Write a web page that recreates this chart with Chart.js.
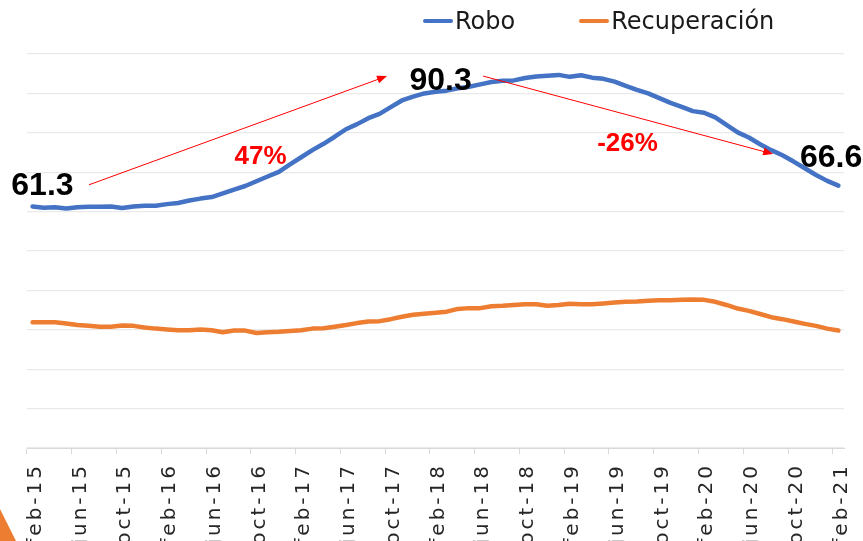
<!DOCTYPE html>
<html lang="es">
<head>
    <meta charset="UTF-8">
    <title>Robo vs Recuperación</title>
    <script src="https://cdn.jsdelivr.net/npm/chart.js"></script>
    <style>
        body { margin: 0; background: #fff; overflow: hidden; }
        #wrap { position: relative; width: 863px; height: 541px; }
        #legend { position: absolute; top: 7px; left: 423px; display: flex; align-items: center;
                  font-family: "DejaVu Sans", sans-serif; font-size: 24px; line-height: 28px; color: #1a1a1a; }
        #legend .item { display: flex; align-items: center; margin-right: 64px; }
        #legend .swatch { width: 30px; height: 4px; margin-right: 2px; border-radius: 2px; }
    </style>
</head>
<body>
<div id="wrap">
    <canvas id="chart" width="863" height="541"></canvas>
    <div id="legend"></div>
</div>
<script>
// months feb-15 .. feb-21
const categories = [
    'feb-15','mar-15','abr-15','may-15','jun-15','jul-15','ago-15','sep-15','oct-15','nov-15','dic-15',
    'ene-16','feb-16','mar-16','abr-16','may-16','jun-16','jul-16','ago-16','sep-16','oct-16','nov-16','dic-16',
    'ene-17','feb-17','mar-17','abr-17','may-17','jun-17','jul-17','ago-17','sep-17','oct-17','nov-17','dic-17',
    'ene-18','feb-18','mar-18','abr-18','may-18','jun-18','jul-18','ago-18','sep-18','oct-18','nov-18','dic-18',
    'ene-19','feb-19','mar-19','abr-19','may-19','jun-19','jul-19','ago-19','sep-19','oct-19','nov-19','dic-19',
    'ene-20','feb-20','mar-20','abr-20','may-20','jun-20','jul-20','ago-20','sep-20','oct-20','nov-20','dic-20',
    'ene-21','feb-21'
];

const robo = [
    61.3, 61.0, 61.1, 60.8, 61.1, 61.2, 61.2, 61.3, 60.9, 61.3, 61.5,
    61.5, 61.9, 62.2, 62.8, 63.3, 63.7, 64.6, 65.6, 66.5, 67.7, 68.9, 70.1,
    72.0, 73.8, 75.6, 77.2, 79.0, 80.9, 82.2, 83.7, 84.8, 86.5, 88.2, 89.2,
    90.0, 90.4, 90.7, 91.3, 91.7, 92.3, 92.9, 93.2, 93.3, 93.9, 94.3, 94.5,
    94.7, 94.2, 94.6, 94.0, 93.7, 93.0, 91.9, 90.9, 90.0, 88.8, 87.6, 86.6,
    85.5, 85.1, 83.9, 82.0, 80.1, 78.8, 77.1, 75.6, 74.3, 72.7, 71.0, 69.3,
    67.8, 66.6
];

const recuperacion = [
    31.9, 31.9, 31.9, 31.6, 31.2, 31.0, 30.8, 30.8, 31.1, 31.0, 30.6,
    30.3, 30.1, 29.9, 29.9, 30.1, 29.9, 29.4, 29.8, 29.8, 29.2, 29.4, 29.5,
    29.7, 29.9, 30.3, 30.4, 30.8, 31.2, 31.7, 32.1, 32.2, 32.7, 33.3, 33.8,
    34.1, 34.3, 34.6, 35.3, 35.5, 35.5, 36.0, 36.1, 36.3, 36.5, 36.5, 36.1,
    36.3, 36.6, 36.5, 36.5, 36.7, 36.9, 37.1, 37.2, 37.4, 37.5, 37.5, 37.6,
    37.7, 37.6, 37.1, 36.3, 35.4, 34.8, 34.0, 33.2, 32.7, 32.1, 31.5, 31.0,
    30.3, 29.8
];

const seriesNames = ['Robo', 'Recuperación'];
const seriesColors = ['#4472C4', '#ED7D31'];

// annotations in data coordinates: [category index, value]
const notes = [
    { text: '61.3', at: [0.88, 66.4], color: '#000000', size: 32 },
    { text: '90.3', at: [36.45, 93.1], color: '#000000', size: 32 },
    { text: '66.6', at: [71.35, 73.5], color: '#000000', size: 32 },
    { text: '47%', at: [20.37, 74.0], color: '#ff0000', size: 26 },
    { text: '-26%', at: [53.16, 77.2], color: '#ff0000', size: 26 }
];
const arrows = [
    { from: [5.04, 66.8], to: [31.67, 94.4] },
    { from: [40.25, 94.4], to: [66.17, 74.6] }
];

// html legend
const legend = document.getElementById('legend');
seriesNames.forEach((name, i) => {
    const item = document.createElement('div');
    item.className = 'item';
    item.innerHTML = '<span class="swatch" style="background:' + seriesColors[i] + '"></span>' + name;
    legend.appendChild(item);
});

const annotPlugin = {
    id: 'annot',
    beforeDraw(chart) {
        chart.ctx.letterSpacing = '3px';
    },
    afterDatasetsDraw(chart) {
        const ctx = chart.ctx, xs = chart.scales.x, ys = chart.scales.y;
        ctx.save();
        ctx.letterSpacing = '0px';
        arrows.forEach(a => {
            const x1 = xs.getPixelForValue(a.from[0]), y1 = ys.getPixelForValue(a.from[1]);
            const x2 = xs.getPixelForValue(a.to[0]), y2 = ys.getPixelForValue(a.to[1]);
            const ang = Math.atan2(y2 - y1, x2 - x1);
            ctx.strokeStyle = '#ff0000';
            ctx.fillStyle = '#ff0000';
            ctx.lineWidth = 1;
            ctx.beginPath();
            ctx.moveTo(x1, y1);
            ctx.lineTo(x2 - 6 * Math.cos(ang), y2 - 6 * Math.sin(ang));
            ctx.stroke();
            ctx.beginPath();
            ctx.moveTo(x2, y2);
            ctx.lineTo(x2 - 10 * Math.cos(ang) + 4 * Math.sin(ang), y2 - 10 * Math.sin(ang) - 4 * Math.cos(ang));
            ctx.lineTo(x2 - 10 * Math.cos(ang) - 4 * Math.sin(ang), y2 - 10 * Math.sin(ang) + 4 * Math.cos(ang));
            ctx.closePath();
            ctx.fill();
        });
        ctx.textAlign = 'center';
        ctx.textBaseline = 'middle';
        notes.forEach(n => {
            ctx.font = 'bold ' + n.size + 'px "Liberation Sans", Arial, sans-serif';
            ctx.fillStyle = n.color;
            ctx.fillText(n.text, xs.getPixelForValue(n.at[0]), ys.getPixelForValue(n.at[1]));
        });
        ctx.restore();
    },
    afterDraw(chart) {
        // slide decoration in the bottom-left corner
        const ctx = chart.ctx;
        ctx.save();
        ctx.fillStyle = '#ED7D31';
        ctx.beginPath();
        ctx.moveTo(0, 509);
        ctx.lineTo(16, 541);
        ctx.lineTo(0, 541);
        ctx.closePath();
        ctx.fill();
        ctx.restore();
    }
};

new Chart(document.getElementById('chart'), {
    type: 'line',
    data: {
        labels: categories,
        datasets: [
            { label: seriesNames[0], data: robo, borderColor: seriesColors[0], backgroundColor: seriesColors[0],
              borderWidth: 4.5, pointRadius: 0, tension: 0, borderCapStyle: 'round', borderJoinStyle: 'round' },
            { label: seriesNames[1], data: recuperacion, borderColor: seriesColors[1], backgroundColor: seriesColors[1],
              borderWidth: 4.5, pointRadius: 0, tension: 0, borderCapStyle: 'round', borderJoinStyle: 'round' }
        ]
    },
    options: {
        responsive: false,
        animation: false,
        devicePixelRatio: 1,
        layout: { padding: { left: 27, right: 19, top: 54, bottom: 0 } },
        plugins: { legend: { display: false }, tooltip: { enabled: false } },
        scales: {
            x: {
                offset: true,
                afterFit: (scale) => {
                    scale.height = 93;
                    scale.paddingLeft = 0;
                    scale.paddingRight = 0;
                },
                grid: {
                    offset: true,
                    drawOnChartArea: false,
                    tickLength: 6,
                    color: (c) => c.index % 4 === 0 ? '#d9d9d9' : 'rgba(0,0,0,0)'
                },
                border: { display: true, color: '#d9d9d9', width: 1 },
                ticks: {
                    autoSkip: false,
                    minRotation: 90,
                    maxRotation: 90,
                    padding: 9,
                    labelOffset: 3,
                    color: '#262626',
                    font: { family: '"DejaVu Sans", sans-serif', size: 20, lineHeight: 1.0 },
                    callback: function (v, i) { return i % 4 === 0 ? this.getLabelForValue(v) : ''; }
                }
            },
            y: {
                min: 0,
                max: 100,
                ticks: { display: false, stepSize: 10 },
                border: { display: false },
                grid: { color: '#e9e9e9', lineWidth: 1.2, drawTicks: false }
            }
        }
    },
    plugins: [annotPlugin]
});
</script>
</body>
</html>
